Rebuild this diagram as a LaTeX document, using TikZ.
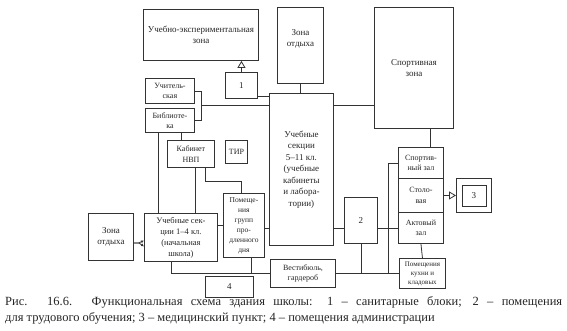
\documentclass[tikz,border=0pt]{standalone}
\usepackage{fontspec}
\setmainfont{Liberation Serif}
\usetikzlibrary{arrows.meta,calc}
\begin{document}
\begin{tikzpicture}[x=1pt,y=-1pt,
 bx/.style={draw=black!80, line width=0.9pt, rectangle, inner sep=0pt, anchor=north west, align=center, font=\fontsize{9}{11}\selectfont, text=black!85},
 sm/.style={font=\fontsize{8}{10.5}\selectfont},
 ln/.style={draw=black!80, line width=0.8pt},
 tri/.style={ln, -{Triangle[open,length=7pt,width=8pt]}},
 arr/.style={ln, -{Latex[length=3pt,width=3pt]}}]
\useasboundingbox[fill=white] (0,0) rectangle (567,330);

% boxes
\node[bx, minimum width=115pt, minimum height=51pt] (tl) at (143,9) {Учебно-экспериментальная\\зона};
\node[bx, minimum width=32pt, minimum height=26pt] (b1) at (225,72) {1};
\node[bx, minimum width=46pt, minimum height=76pt] (zo) at (277,7) {Зона\\отдыха\\[4pt]};
\node[bx, minimum width=79pt, minimum height=121pt] (sz) at (374,7) {Спортивная\\зона};
\node[bx, sm, minimum width=49pt, minimum height=25pt] (uch) at (145,78) {Учитель-\\ская};
\node[bx, sm, minimum width=49pt, minimum height=24pt] (bib) at (145,108) {Библиоте-\\ка};
\node[bx, sm, minimum width=47pt, minimum height=27pt] (nvp) at (167,140) {Кабинет\\НВП};
\node[bx, sm, minimum width=22pt, minimum height=23pt] (tir) at (225,140) {ТИР};
\node[bx, font=\fontsize{9}{11.5}\selectfont, minimum width=64pt, minimum height=152pt] (cen) at (269,93) {Учебные\\секции\\5--11 кл.\\(учебные\\кабинеты\\и лабора-\\тории)};
\node[bx, minimum width=45pt, minimum height=47pt] (zl) at (88,213) {Зона\\отдыха};
\node[bx, font=\fontsize{8.5}{11}\selectfont, minimum width=73pt, minimum height=48pt] (nach) at (144,213) {Учебные сек-\\ции 1--4 кл.\\(начальная\\школа)};
\node[bx, font=\fontsize{7.5}{10}\selectfont, minimum width=41pt, minimum height=64pt] (prod) at (223,193) {Помеще-\\ния\\групп\\про-\\дленного\\дня};
\node[bx, sm, minimum width=65pt, minimum height=28pt] (vest) at (270,259) {Вестибюль,\\гардероб};
\node[bx, minimum width=48pt, minimum height=21pt] (n4) at (205,276) {4};
\node[bx, minimum width=33pt, minimum height=46pt] (n2) at (344,197) {2};
\node[bx, sm, minimum width=45pt, minimum height=31pt] (sp) at (398,147) {Спортив-\\ный зал};
\node[bx, sm, minimum width=45pt, minimum height=34pt] (st) at (398,178) {Столо-\\вая};
\node[bx, sm, minimum width=45pt, minimum height=31pt] (act) at (398,212) {Актовый\\зал};
\node[bx, font=\fontsize{7}{9}\selectfont, minimum width=46pt, minimum height=30pt] (ob) at (399,258) {Помещения\\кухни и\\кладовых};
\node[bx, minimum width=35pt, minimum height=34pt] (n3) at (456,178) {3};
\draw[ln] ($(n3.north west)+(6,7)$) rectangle ($(n3.south east)+(-6,-7)$);

% connectors
\draw[tri] (b1.north) -- (b1.north |- tl.south);
\draw[ln] ([yshift=3pt]b1.south east) -- ++(12,0);
\draw[ln] (zo.south) -- (zo.south |- cen.north);
\coordinate (j1) at ($(uch.east)!0.5!(bib.east)+(6,0)$);
\draw[ln] (uch.east) -- ++(6,0) |- (bib.east);
\draw[ln] (j1) -- (j1 -| cen.west);
\draw[ln] (j1 -| cen.east) -- (j1 -| sz.west);
\draw[ln] ([xshift=9pt]sp.north) -- ([xshift=9pt]sp.north |- sz.south);
\coordinate (bt) at ([xshift=-10pt]sp.west);
\draw[ln] (sp.west) -- (bt) -- (bt |- ob.west) -- (ob.west);
\draw[ln] (prod.east |- act.west) -- (cen.west |- act.west);
\draw[ln] (cen.east |- act.west) -- (n2.west |- act.west);
\draw[ln] (n2.east |- act.west) -- (act.west);
\draw[tri] (st.east) -- (n3.west);
\draw[ln] (act.south) -- (ob.north);
\draw[ln] (n2.south) -- (n2.south |- vest.east);
\draw[ln] (vest.east) -- (vest.east -| bt);
\draw[ln] ([xshift=-10pt]nach.south) |- (vest.west);
\draw[ln] ([xshift=7pt]prod.south) -- ([xshift=7pt]prod.south |- vest.west);
\draw[ln] ([xshift=-11.5pt]bib.south) -- ([xshift=-11.5pt]bib.south |- nach.north);
\draw[ln] ([xshift=-10pt]nvp.north) -- ([xshift=-10pt]nvp.north |- bib.south);
\draw[ln] ([xshift=4.5pt]nvp.south) -- ([xshift=4.5pt]nvp.south |- nach.north);
\draw[ln] ([xshift=14.5pt]nvp.south) -- ++(0,13) -| ([xshift=-2.5pt]prod.north);
\draw[ln] (prod.west) -- (prod.west -| nach.east);
\draw[arr] ([yshift=-6pt]zl.east) -- ++(5,0) -- ([yshift=-3pt]nach.west);
\draw[arr] ([yshift=-6pt]zl.east) -- ++(5,0) -- ([yshift=-9pt]nach.west);

% caption
\node[anchor=west, inner sep=0pt, font=\fontsize{12.5}{14}\selectfont, text=black!85] (cap1) at (5,302)
 {\makebox[557pt][s]{Рис. 16.6. Функциональная схема здания школы: 1 -- санитарные блоки; 2 -- помещения}};
\node[anchor=west, inner sep=0pt, font=\fontsize{12.5}{14}\selectfont, text=black!85] (cap2) at (5,318)
 {для трудового обучения; 3 -- медицинский пункт; 4 -- помещения администрации};
\end{tikzpicture}
\end{document}
